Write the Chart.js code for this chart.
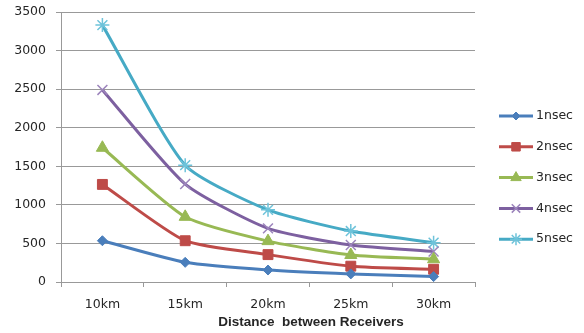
<!DOCTYPE html>
<html>
<head>
<meta charset="utf-8">
<script src="https://cdn.jsdelivr.net/npm/chart.js@4/dist/chart.umd.min.js"></script>
<style>
  html, body { margin: 0; padding: 0; background: #fff; }
  #wrap { width: 584px; height: 333px; }
</style>
</head>
<body>
<div id="wrap"><canvas id="myChart" width="584" height="333"></canvas></div>
<script>
const distances = ['10km', '15km', '20km', '25km', '30km'];
const ns1 = [535, 255, 155, 105, 70];
const ns2 = [1265, 535, 355, 205, 165];
const ns3 = [1740, 845, 530, 350, 295];
const ns4 = [2490, 1270, 695, 480, 395];
const ns5 = [3330, 1515, 935, 660, 510];
const seriesNames = ['1nsec', '2nsec', '3nsec', '4nsec', '5nsec'];
const xTitle = 'Distance  between Receivers';

const colors = ['#4A7EBB', '#BE4B48', '#98B954', '#7D60A0', '#46AAC5'];
const markColors = ['#4A7EBB', '#BE4B48', '#98B954', '#9C84BC', '#6EC3DA'];
const styles = ['rectRot', 'rect', 'triangle', 'crossRot', 'star'];
const radii = [5, 7, 7, 7, 7];
const values = [ns1, ns2, ns3, ns4, ns5];

const font = "'DejaVu Sans', Verdana, sans-serif";
const titleFont = "'Liberation Sans', Arial, sans-serif";

const datasets = values.map((v, i) => ({
    label: seriesNames[i],
    data: v,
    borderColor: colors[i],
    backgroundColor: markColors[i],
    borderWidth: 3,
    tension: 0.2,
    pointStyle: styles[i],
    pointRadius: radii[i],
    pointBorderColor: markColors[i],
    pointBorderWidth: (i >= 3) ? 1.5 : 1,
    pointBackgroundColor: markColors[i]
}));

// axis title sits off-centre in the original, and the legend keys are line+marker,
// so both are drawn here
const sideBits = {
    id: 'sideBits',
    afterDraw(chart) {
        const c = chart.ctx;
        c.save();
        c.font = 'bold 13.5px ' + titleFont;
        c.fillStyle = '#262626';
        c.textAlign = 'center';
        c.textBaseline = 'middle';
        c.fillText(xTitle, 311, 322);
        c.font = '12.5px ' + font;
        c.textAlign = 'left';
        seriesNames.forEach((name, i) => {
            const y = 116 + i * 30.8;
            c.strokeStyle = colors[i];
            c.lineWidth = 3;
            c.beginPath();
            c.moveTo(499, y);
            c.lineTo(533, y);
            c.stroke();
            c.fillStyle = markColors[i];
            c.strokeStyle = markColors[i];
            c.lineWidth = (i >= 3) ? 1.5 : 1;
            if (Chart.helpers && Chart.helpers.drawPoint) {
                Chart.helpers.drawPoint(c, {pointStyle: styles[i], radius: radii[i] - 1, rotation: 0, borderWidth: c.lineWidth}, 516, y);
            }
            c.fillStyle = '#262626';
            c.fillText(name, 536, y);
        });
        c.restore();
    }
};

const ctx = document.getElementById('myChart').getContext('2d');

const myChart = new Chart(ctx, {
    type: 'line',
    data: {
        labels: distances,
        datasets: datasets
    },
    options: {
        responsive: false,
        animation: false,
        layout: {
            padding: { left: 0, right: 109, top: 12, bottom: 0 }
        },
        plugins: {
            legend: { display: false },
            tooltip: { enabled: false }
        },
        scales: {
            x: {
                offset: true,
                grid: {
                    offset: true,
                    drawOnChartArea: false,
                    color: '#999999',
                    tickLength: 5
                },
                border: { color: '#999999' },
                ticks: {
                    color: '#262626',
                    font: { family: font, size: 12.5 },
                    padding: 10,
                    maxRotation: 0
                },
                afterFit(scale) {
                    scale.height = 51;
                    scale.paddingLeft = 0;
                    scale.paddingRight = 0;
                }
            },
            y: {
                min: 0,
                max: 3500,
                grid: {
                    color: '#999999',
                    tickLength: 5
                },
                border: { color: '#999999' },
                ticks: {
                    stepSize: 500,
                    color: '#262626',
                    font: { family: font, size: 12.5 },
                    padding: 10,
                    callback: (v) => String(v)
                },
                afterFit(scale) {
                    scale.width = 61;
                    scale.paddingTop = 0;
                    scale.paddingBottom = 0;
                }
            }
        }
    },
    plugins: [sideBits]
});
</script>
</body>
</html>
